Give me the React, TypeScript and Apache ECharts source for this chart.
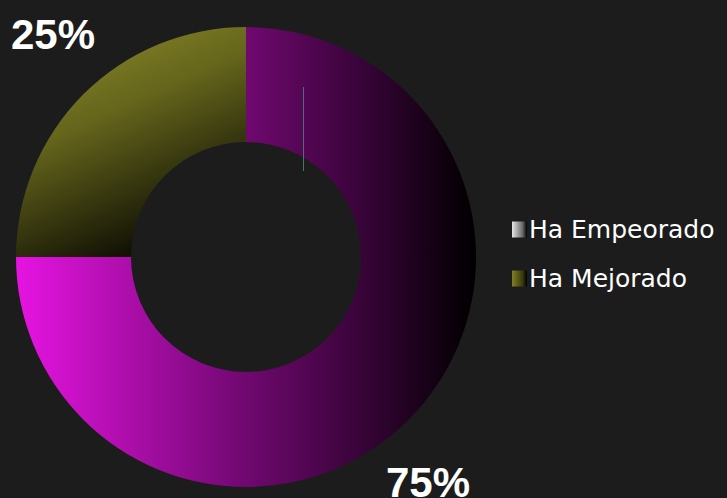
import React, { useEffect, useRef } from "react";
import * as echarts from "echarts";

const categories = ["Ha Empeorado", "Ha Mejorado"];
const values = [75, 25];
const labelTexts = ["75%", "25%"];

const labelPositions = [
  { x: 428, y: 482 },
  { x: 53, y: 34 },
];

export default function App() {
  const ref = useRef<HTMLDivElement>(null);
  useEffect(() => {
    if (!ref.current) return;
    const chart = echarts.init(ref.current, undefined, { renderer: "svg" });
    const sliceColors = [
      new echarts.graphic.LinearGradient(0, 0, 1, 0, [
        { offset: 0, color: "#e614e2" },
        { offset: 0.5, color: "#700870" },
        { offset: 1, color: "#000000" },
      ]),
      new echarts.graphic.LinearGradient(0.3, 0, 0.75, 1, [
        { offset: 0, color: "#868628" },
        { offset: 0.35, color: "#65651c" },
        { offset: 1, color: "#000000" },
      ]),
    ];
    const legendColors = [
      new echarts.graphic.LinearGradient(0, 0, 1, 0, [
        { offset: 0, color: "#e6e6e6" },
        { offset: 0.7, color: "#6a6a6a" },
        { offset: 1, color: "#000000" },
      ]),
      new echarts.graphic.LinearGradient(0, 0, 1, 0, [
        { offset: 0, color: "#808022" },
        { offset: 0.7, color: "#3a3a10" },
        { offset: 1, color: "#000000" },
      ]),
    ];
    chart.setOption({
      animation: false,
      backgroundColor: "#1c1c1c",
      legend: {
        orient: "vertical",
        left: 507,
        top: 212,
        itemWidth: 15,
        itemHeight: 16,
        itemGap: 24,
        icon: "rect",
        textStyle: {
          color: "#ffffff",
          fontSize: 25,
          fontFamily: "DejaVu Sans",
          padding: [0, 0, 0, -3],
        },
        data: categories.map((c, i) => ({
          name: c,
          itemStyle: { color: legendColors[i] },
        })),
      },
      graphic: [
        {
          type: "line",
          shape: { x1: 303.5, y1: 87, x2: 303.5, y2: 171 },
          style: { stroke: "#4a7070", lineWidth: 1 },
          z: 10,
        },
      ],
      series: [
        {
          type: "pie",
          center: [246, 257],
          radius: [115, 230],
          startAngle: 90,
          clockwise: true,
          avoidLabelOverlap: false,
          data: categories.map((c, i) => ({
            name: c,
            value: values[i],
            itemStyle: { color: sliceColors[i] },
            label: { formatter: labelTexts[i] },
          })),
          label: {
            show: true,
            position: "outside",
            color: "#ffffff",
            fontSize: 42,
            fontWeight: "bold",
            fontFamily: "Liberation Sans",
          },
          labelLine: { show: false },
          labelLayout: (params: any) => ({
            x: labelPositions[params.dataIndex].x,
            y: labelPositions[params.dataIndex].y,
            align: "center",
            verticalAlign: "middle",
          }),
          emphasis: { disabled: true },
        },
      ],
    });
    return () => chart.dispose();
  }, []);
  return (
    <div
      ref={ref}
      style={{ position: "fixed", left: 0, top: 0, width: 727, height: 498 }}
    />
  );
}
